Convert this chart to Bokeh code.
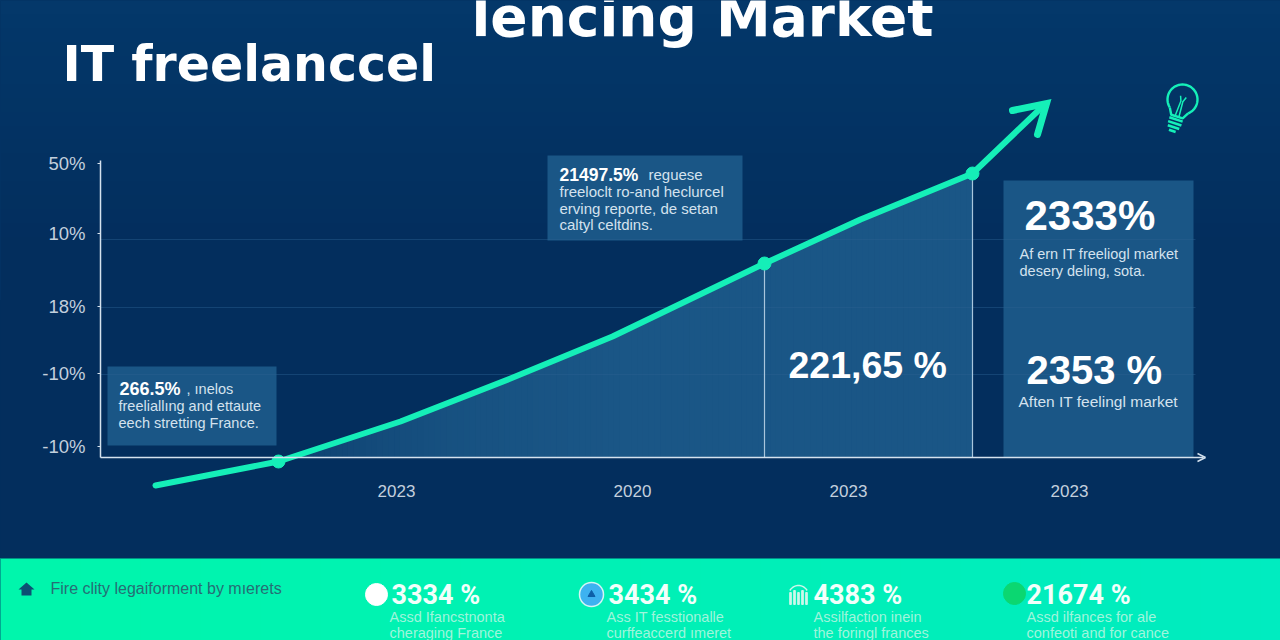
from bokeh.plotting import figure
from bokeh.models import LinearAxis, FixedTicker, Range1d
from bokeh.core.properties import value
from bokeh.embed import file_html
from bokeh.resources import INLINE
import numpy as np

# ---- data (chart units: x along the time axis, y along the value axis)
x_ticks = [0, 236, 452, 673]
x_labels = ["2023", "2020", "2023", "2023"]
y_ticks = [0, 73, 140, 213, 283]
y_labels = ["-10%", "-10%", "18%", "10%", "50%"]
grid_levels = [72, 139, 207]
line_x = [-241, -118, 4, 114, 216, 368, 464, 576, 644]
line_y = [-39, -15, 25, 68, 110, 183, 227, 273, 338]
marker_x = [-118, 368, 576]
marker_y = [-15, 183, 273]
drop_x = [368, 576]
drop_y = [183, 273]

title_1 = "IT freelanccel"
title_2 = "lencing Market"
footer_note = "Fire clity legaiforment by mıerets"
footer_values = ["3334 %", "3434 %", "4383 %", "21674 %"]
footer_l1 = ["Assd Ifancstnonta", "Ass IT fesstionalle", "Assilfaction inein", "Assd ilfances for ale"]
footer_l2 = ["cheraging France", "curffeaccerd ımeret", "the foringl frances", "confeoti and for cance"]

NAVY = "#032f5e"
PANEL = "#1a5686"
MINT = "#15efb8"

W, H = 1280, 640
OX, OY = 396, 446   # reference pixel of the data origin
def X(px): return px - OX
def Y(py): return OY - py

p = figure(width=W, height=H, output_backend="svg", toolbar_location=None,
           x_range=Range1d(X(0), X(W)), y_range=Range1d(Y(H), Y(0)),
           min_border=0, outline_line_color=None, background_fill_color=NAVY,
           border_fill_color=NAVY, x_axis_type=None, y_axis_type=None)
p.grid.visible = False

# navy backdrop, a little lighter towards the top
m = 40
bg = np.zeros((m, 1), dtype=np.uint32)
b = bg.view(np.uint8).reshape((m, 1, 4))
f = np.clip(1 - np.linspace(0, 1, m)[::-1] * 2.2, 0, 1)
b[:, 0, 0] = (3 + 1 * f).astype(np.uint8)
b[:, 0, 1] = (46 + 10 * f).astype(np.uint8)
b[:, 0, 2] = (93 + 13 * f).astype(np.uint8)
b[:, 0, 3] = 255
p.image_rgba(image=[bg], x=X(0), y=Y(558), dw=W, dh=558)

# footer band with a slight horizontal gradient
n = 64
t = np.linspace(0, 1, n)
img = np.zeros((1, n), dtype=np.uint32)
v = img.view(np.uint8).reshape((1, n, 4))
v[0, :, 0] = 0
v[0, :, 1] = (246 - 10 * t).astype(np.uint8)
v[0, :, 2] = (172 + 20 * t).astype(np.uint8)
v[0, :, 3] = 255
p.image_rgba(image=[img], x=X(0), y=Y(640), dw=W, dh=640 - 558)

# filled area beneath the curve: solid slices blending from navy into the panel colour
def hex2(c): return np.array([int(c[i:i + 2], 16) for i in (1, 3, 5)], float)
edges = np.linspace(marker_x[0], marker_x[-1], 121)
xs, ys, cols = [], [], []
for a, e in zip(edges[:-1], edges[1:]):
    e2 = min(e + 0.7, marker_x[-1])
    ya, ye = np.interp([a, e2], line_x, line_y)
    xs.append([a, e2, e2, a])
    ys.append([Y(457), Y(457), ye, ya])
    k = float(np.interp(a, [-118, -20, 60, 220], [0.45, 0.72, 0.88, 1.0]))
    c = hex2(NAVY) * (1 - k) + hex2(PANEL) * k
    cols.append("#%02x%02x%02x" % tuple(int(round(q)) for q in c))
p.patches(xs, ys, fill_color=cols, line_color=None)

# panels
p.quad(left=X(547), right=X(742), top=Y(155), bottom=Y(240), fill_color=PANEL, line_color=None)
p.quad(left=X(107), right=X(276), top=Y(366), bottom=Y(445), fill_color=PANEL, line_color=None)
p.quad(left=X(1003), right=X(1193), top=Y(180), bottom=Y(457), fill_color=PANEL, line_color=None)

# grid
p.segment(x0=[X(100)] * 3, x1=[X(1195)] * 3, y0=grid_levels, y1=grid_levels,
          line_color="#2a6090", line_width=1, line_alpha=0.45)

# drop lines
p.segment(x0=drop_x, x1=drop_x, y0=[Y(457)] * 2, y1=drop_y, line_color="#a9c6dd", line_width=1.2)

# axes
xa = LinearAxis(fixed_location=Y(457), ticker=FixedTicker(ticks=x_ticks),
                major_label_overrides=dict(zip(x_ticks, x_labels)),
                bounds=(X(100), X(1203)), axis_line_color="#d5e2ee", axis_line_width=1.5,
                major_tick_line_color=None, minor_tick_line_color=None,
                major_label_text_color="#c3d0dd", major_label_text_font="Liberation Sans",
                major_label_text_font_size="17px", major_label_standoff=21)
p.add_layout(xa, "below")
ya = LinearAxis(fixed_location=X(100), ticker=FixedTicker(ticks=y_ticks),
                major_label_overrides=dict(zip(y_ticks, y_labels)),
                bounds=(Y(457), Y(160)), axis_line_color="#d5e2ee", axis_line_width=1.5,
                major_tick_line_color="#d5e2ee", major_tick_out=3, major_tick_in=0,
                minor_tick_line_color=None, major_label_text_color="#c3d0dd",
                major_label_text_font="Liberation Sans", major_label_text_font_size="18.5px",
                major_label_standoff=12)
p.add_layout(ya, "left")
p.segment(x0=[X(1197), X(1197)], x1=[X(1205), X(1205)], y0=[Y(453), Y(461)],
          y1=[Y(457), Y(457)], line_color="#d5e2ee", line_width=1.5)

# curve, arrow head, markers
p.line(line_x, line_y, line_color=MINT, line_width=6, line_cap="round", line_join="round")
p.line([X(1012), X(1046), X(1037)], [Y(110), Y(103), Y(134)], line_color=MINT, line_width=7,
       line_cap="round", line_join="miter")
p.scatter(marker_x, marker_y, size=13, color=MINT)

def txt(px, py, s, size, color="#ffffff", font="Liberation Sans", style="normal", align="left", alpha=1.0):
    p.text(x=[X(px)], y=[Y(py)], text=[s], text_font=value(font),
           text_font_size=value(f"{size}px"), text_font_style=style, text_color=color,
           text_align=align, text_baseline="middle", text_alpha=alpha)

# titles
txt(62, 64, title_1, 49, font="DejaVu Sans", style="bold")
txt(471, 16, title_2, 55, font="DejaVu Sans", style="bold")

# callouts
SOFT = "#d4e2ee"
txt(559, 174, "21497.5%", 17.5, style="bold")
txt(648, 174, "reguese", 15, color=SOFT)
txt(559, 191, "freeloclt ro-and heclurcel", 15, color=SOFT)
txt(559, 208, "erving reporte, de setan", 15, color=SOFT)
txt(559, 224, "caltyl celtdins.", 15, color=SOFT)

txt(119, 388, "266.5%", 18, style="bold")
txt(186, 388, ", ınelos", 14.5, color=SOFT)
txt(118, 405, "freeliallıng and ettaute", 14.5, color=SOFT)
txt(118, 422, "eech stretting France.", 14.5, color=SOFT)

txt(1024, 215, "2333%", 42, style="bold")
txt(1019, 253, "Af ern IT freeliogl market", 14.5, color=SOFT)
txt(1019, 270, "desery deling, sota.", 14.5, color=SOFT)
txt(1026, 369, "2353 %", 40, style="bold")
txt(1018, 401, "Aften IT feelingl market", 15.5, color=SOFT)
txt(788, 364, "221,65 %", 37.5, style="bold")

# light bulb icon, tilted about its centre
cx, cy, tilt = 1182, 99, np.radians(-18)
def rot(dx, dy):
    dx, dy = np.asarray(dx, float), np.asarray(dy, float)
    return (X(cx) + dx * np.cos(tilt) - dy * np.sin(tilt),
            Y(cy) + dx * np.sin(tilt) + dy * np.cos(tilt))
th = np.linspace(np.radians(-50), np.radians(230), 40)
bx, by = rot(15 * np.cos(th), 15 * np.sin(th))
p.line(bx, by, line_color=MINT, line_width=2.4)
bx, by = rot([-9.6, -6, 6, 9.6], [-11.5, -18, -18, -11.5])
p.line(bx, by, line_color=MINT, line_width=2.4)
for dy, hw in [(-21, 7), (-25, 7), (-29, 6), (-33, 3.5)]:
    bx, by = rot([-hw, hw], [dy, dy])
    p.line(bx, by, line_color=MINT, line_width=2.6)
for sx, ex in [(-2, -1), (2, 1)]:
    bx, by = rot([sx, ex, ex * 3], [-18, -2, 3])
    p.line(bx, by, line_color=MINT, line_width=1.5)

# footer
p.patch([X(18), X(26), X(34), X(31), X(31), X(21), X(21)],
        [Y(589), Y(582), Y(589), Y(589), Y(595), Y(595), Y(589)], fill_color="#0d4f73", line_color=None)
txt(50, 588, footer_note, 16, color="#266e75")

footer_x = [391, 608, 813, 1026]
sub_x = [389, 606, 813, 1026]
for fx, sx, val, a, b in zip(footer_x, sub_x, footer_values, footer_l1, footer_l2):
    txt(fx, 594, val, 27, style="bold", font="Roboto", color="#f2fffb")
    txt(sx, 616, a, 14.5, color="#9ff5dc")
    txt(sx, 632, b, 14.5, color="#9ff5dc")

p.scatter([X(376)], [Y(594)], size=22, color="#ffffff")
p.scatter([X(591)], [Y(594)], size=24, color="#3db2f0", line_color="#d5f5f5", line_width=1.5)
p.scatter([X(591)], [Y(594)], size=7, marker="triangle", color="#0d5fa8")
p.scatter([X(1014)], [Y(593)], size=22, color="#0bd771")
p.vbar(x=[X(790), X(794), X(798), X(802), X(806)], width=1.6, bottom=Y(604),
       top=[Y(592), Y(590), Y(592), Y(590), Y(592)], color="#cdf7ea")
th2 = np.linspace(np.radians(30), np.radians(150), 12)
p.line(X(798) + 10 * np.cos(th2), Y(595) + 10 * np.sin(th2), line_color="#cdf7ea", line_width=1.4)

html = file_html(p, INLINE)
html = html.replace("</head>", "<style>html,body{background:linear-gradient(#04386a 300px,#032f5e 300px,#032f5e 558px,#00f0b4 558px);}</style></head>", 1)
open("out.html", "w").write(html)
